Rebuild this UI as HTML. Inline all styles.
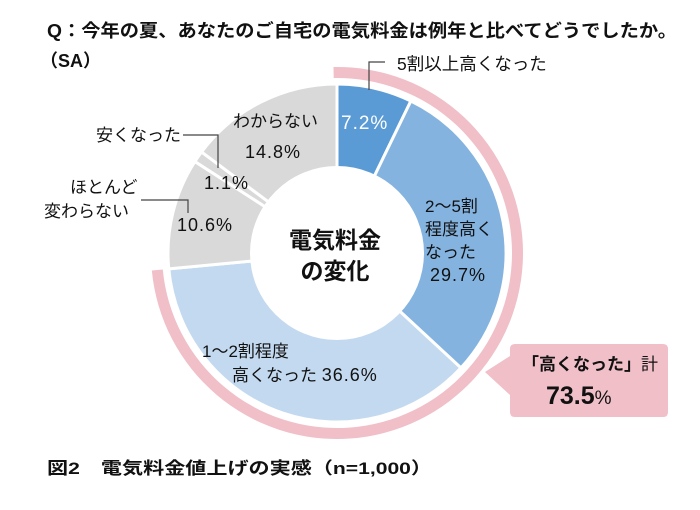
<!DOCTYPE html>
<html><head><meta charset="utf-8"><style>
body{margin:0;background:#fff;}
svg text{font-family:"Liberation Sans","Noto Sans CJK JP",sans-serif;}
.pct{letter-spacing:1px;}
</style></head><body>
<svg width="700" height="505" viewBox="0 0 700 505" xmlns="http://www.w3.org/2000/svg">
<text x="47" y="37" font-size="18" font-weight="bold" fill="#111" textLength="630" lengthAdjust="spacingAndGlyphs">Q：今年の夏、あなたのご自宅の電気料金は例年と比べてどうでしたか。</text>
<text x="40" y="67" font-size="18" font-weight="bold" fill="#111">（SA）</text>
<g id="ring"></g>
<g id="slices"></g>
<circle cx="337" cy="253" r="87" fill="#fff"/>
<text x="335" y="248" font-size="23" font-weight="bold" text-anchor="middle" fill="#111">電気料金</text>
<text x="335" y="279" font-size="23" font-weight="bold" text-anchor="middle" fill="#111">の変化</text>
<g font-size="17" fill="#111">
<text class="pct" x="341" y="129" font-size="19" fill="#fff">7.2%</text>
<text x="425" y="212">2～5割</text>
<text x="425" y="235">程度高く</text>
<text x="425" y="258">なった</text>
<text class="pct" x="430" y="281" font-size="18">29.7%</text>
<text x="202" y="357">1～2割程度</text>
<text x="232" y="381">高くなった <tspan class="pct" font-size="18">36.6%</tspan></text>
<text class="pct" x="177" y="231" font-size="18">10.6%</text>
<text class="pct" x="204" y="189" font-size="18">1.1%</text>
<text x="233" y="127">わからない</text>
<text class="pct" x="245" y="158" font-size="18">14.8%</text>
<text x="96" y="141">安くなった</text>
<text x="70" y="193">ほとんど</text>
<text x="44" y="217">変わらない</text>
<text x="397" y="70" font-size="17.5">5割以上高くなった</text>
</g>
<g stroke="#444" stroke-width="1.2" fill="none">
<polyline points="385,62 369,62 369,90"/>
<polyline points="183,135 218,135 218,168"/>
<polyline points="141,200 188,200 188,213"/>
</g>
<path d="M510,349 Q510,344 515,344 L663,344 Q668,344 668,349 L668,412 Q668,417 663,417 L515,417 Q510,417 510,412 L510,395 L485,372 L510,356 Z" fill="#f0bfc8"/>
<text x="522" y="370" font-size="17" font-weight="bold" fill="#111">「高くなった」<tspan font-weight="normal">計</tspan></text>
<text x="546" y="404" font-size="25" font-weight="bold" fill="#111">73.5<tspan font-size="19" font-weight="normal">%</tspan></text>
<text x="47" y="474" font-size="17" font-weight="bold" fill="#111" textLength="385" lengthAdjust="spacingAndGlyphs">図2　電気料金値上げの実感（n=1,000）</text>
</svg>
<script>
const categories = ["5割以上高くなった","2～5割程度高くなった","1～2割程度高くなった","ほとんど変わらない","安くなった","わからない"];
const values = [7.2, 29.7, 36.6, 10.6, 1.1, 14.8];
const highlightTotal = [73.5];
const colors = ["#5b9bd5","#84b3e0","#c3d9f0","#d9d9d9","#d9d9d9","#d9d9d9"];
const cx=337, cy=253, rO=169, rI=87;
function ang(p){return p/100*2*Math.PI;}
function pt(r,a){return [cx+r*Math.sin(a), cy-r*Math.cos(a)];}
function arc(r1,r2,a0,a1){
  const l=(a1-a0)>Math.PI?1:0;
  const p0=pt(r2,a0),p1=pt(r2,a1),p2=pt(r1,a1),p3=pt(r1,a0);
  return `M${p0}A${r2},${r2} 0 ${l} 1 ${p1}L${p2}A${r1},${r1} 0 ${l} 0 ${p3}Z`;
}
const NS="http://www.w3.org/2000/svg";
const g=document.getElementById('slices');
let acc=0;
values.forEach((v,i)=>{
  const p=document.createElementNS(NS,'path');
  p.setAttribute('d',arc(rI-5,rO,ang(acc),ang(acc+v)));
  p.setAttribute('fill',colors[i]);
  p.setAttribute('stroke','#fff');
  p.setAttribute('stroke-width','3');
  
  
  g.appendChild(p);
  acc+=v;
});
const ring=document.createElementNS(NS,'path');
ring.setAttribute('d',arc(175,186,ang(-0.3),ang(highlightTotal[0])));
ring.setAttribute('fill','#f0bfc8');


document.getElementById('ring').appendChild(ring);
</script>
</body></html>
